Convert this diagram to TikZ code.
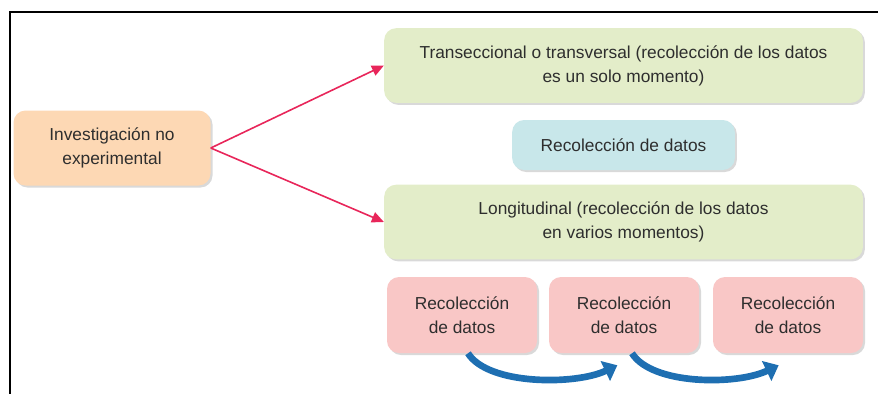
\documentclass[tikz,border=0pt]{standalone}
\usepackage{fontspec}
\setmainfont{Liberation Sans}
\usetikzlibrary{shadows,arrows.meta}
\definecolor{peach}{HTML}{FDD8B4}
\definecolor{leaf}{HTML}{E3EDC9}
\definecolor{aqua}{HTML}{C8E7EA}
\definecolor{rose}{HTML}{F9C7C6}
\definecolor{ink}{HTML}{2E2E2E}
\definecolor{crimson}{HTML}{E8265A}
\definecolor{steel}{HTML}{1E6FB2}

\begin{document}
\begin{tikzpicture}[x=0.75pt, y=-0.75pt,
box/.style = {shape=rectangle, rounded corners=9pt, align=center,
	text=ink, font=\fontsize{13}{18}\selectfont, inner sep=0pt,
	drop shadow={opacity=0.3, shadow xshift=1.5pt, shadow yshift=-1.5pt}},
origin/.style = {box, fill=peach, minimum width=147.75pt, minimum height=56.25pt},
design/.style = {box, fill=leaf, minimum width=359pt, minimum height=56pt},
gather/.style = {box, fill=aqua, minimum width=167pt, minimum height=37.5pt},
wave/.style = {box, fill=rose, minimum width=112.5pt, minimum height=57pt},
branch/.style = {draw=crimson, line width=1.2pt, -{Triangle[length=9pt, width=8pt]}},
sweep/.style = {draw=steel, line width=5pt, -{Triangle[length=10pt, width=16pt]}}]
	\useasboundingbox (0,0) rectangle (878,394);
	\draw[line width=1.3pt] (878,12) -- (10,12) -- (10,394);
	\node[origin] (inv) at (112,148) {Investigación no\\experimental};
	\node[design] (trans) at (623.5,65.5) {Transeccional o transversal (recolección de los datos\\es un solo momento)};
	\node[gather] (rec) at (623.5,145) {Recolección de datos};
	\node[design] (longi) at (623.5,222) {Longitudinal (recolección de los datos\\en varios momentos)};
	\node[wave] (r1) at (462,315) {Recolección\\de datos};
	\node[wave] (r2) at (624,315) {Recolección\\de datos};
	\node[wave] (r3) at (788,315) {Recolección\\de datos};
	\draw[branch] (inv.east) -- (trans.west);
	\draw[branch] (inv.east) -- (longi.west);
	% arrows under the three gatherings
	\draw[sweep] ([xshift=4.5pt]r1.south) .. controls +(20,32) and +(-42,20) .. ([xshift=-5pt, yshift=-9pt]r2.south);
	\draw[sweep] ([xshift=6pt]r2.south) .. controls +(20,32) and +(-42,20) .. ([xshift=-7pt, yshift=-9pt]r3.south);
\end{tikzpicture}
\end{document}
